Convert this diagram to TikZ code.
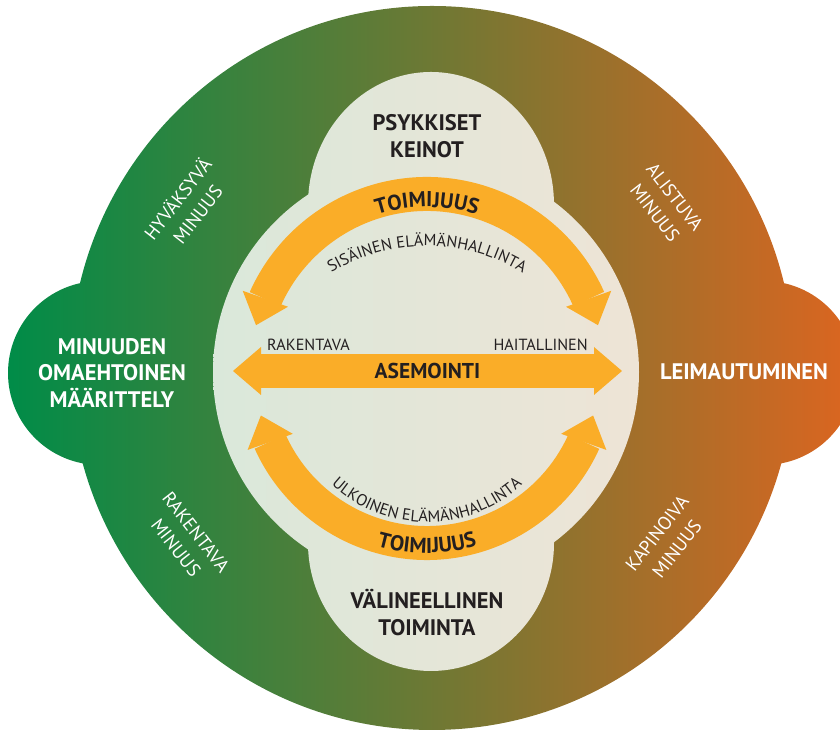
\documentclass[tikz,border=0pt]{standalone}
\usepackage{fontspec}
\setmainfont{PT Sans}
\usepackage{xcolor}
\usepackage{tikz}
\usetikzlibrary{arrows.meta,bending,decorations.text,positioning}

\definecolor{leafgreen}{RGB}{0,140,72}
\definecolor{ringmid}{RGB}{124,130,58}
\definecolor{rustorange}{RGB}{220,101,32}
\definecolor{paleleft}{RGB}{218,232,218}
\definecolor{paleright}{RGB}{238,228,214}
\definecolor{bandorange}{RGB}{250,173,40}
\definecolor{inkdark}{RGB}{35,31,32}

\newcommand\zonefont{\fontsize{19.2}{23}\selectfont\bfseries}
\newcommand\toimifont{\fontsize{18.3}{20}\selectfont\bfseries}
\newcommand\polefont{\fontsize{13.8}{15}\selectfont}
\newcommand\selffont{\fontsize{16}{21.5}\selectfont}

\begin{document}
\begin{tikzpicture}[
  x=0.3mm, y=0.3mm,
  >={Triangle[length=8.4mm, width=14.4mm, line width=0pt]},
  every node/.style={inner sep=0pt},
  band/.style={draw=bandorange, line width=10.2mm, <->},
  zone/.style={font=\zonefont, align=center, text=inkdark},
  sidezone/.style={zone, text=white},
  selfnote/.style={font=\selffont, align=center, text=white},
  pole/.style={font=\polefont, text=inkdark},
  arcnote/.style={decorate, decoration={text along path, text align=center,
                  text color=inkdark, text={#1}}}
]
  \clip (0,0) rectangle (840,732);

  % ring with the two side lobes, then the pale field inside it
  \shade[left color=leafgreen, middle color=ringmid, right color=rustorange]
    (432,364) circle (362) (100,359) circle (92) (764,359) circle (92);
  \shade[left color=paleleft, right color=paleright]
    (426,360) circle (213)
    (431,527) ellipse [x radius=123, y radius=133]
    (431,189) ellipse [x radius=123, y radius=128];

  \coordinate (hub)    at (427,361);
  \coordinate (innerc) at (427,303);
  \coordinate (outerc) at (427,351);
  \coordinate (aseL)   at (233,361);
  \coordinate (aseR)   at (622,361);

  \draw[band] ([shift={(165:177)}]hub) arc[start angle=165, end angle=15, radius=177];
  \draw[band] ([shift={(195:172)}]hub) arc[start angle=195, end angle=345, radius=172];
  \draw[band] (aseL) -- (aseR) node[midway, font=\toimifont, text=inkdark] (asem) {ASEMOINTI};

  \path[arcnote={|\toimifont|TOIMIJUUS}]
    ([shift={(130:164)}]hub) arc[start angle=130, end angle=50, radius=164];
  \path[arcnote={|\toimifont|TOIMIJUUS}]
    ([shift={(235:182)}]hub) arc[start angle=235, end angle=305, radius=182];
  \path[arcnote={|\polefont|SISÄINEN ELÄMÄNHALLINTA}]
    ([shift={(135:183)}]innerc) arc[start angle=135, end angle=45, radius=183];
  \path[arcnote={|\polefont|ULKOINEN ELÄMÄNHALLINTA}]
    ([shift={(210:141)}]outerc) arc[start angle=210, end angle=330, radius=141];

  \node[zone]     (psyk)  at (427,596) {PSYKKISET\\KEINOT};
  \node[zone]     (valin) at (427,119) {VÄLINEELLINEN\\TOIMINTA};
  \node[sidezone] (omae)  at (112,359) {MINUUDEN\\OMAEHTOINEN\\MÄÄRITTELY};
  \node[sidezone] (leima) at (744,360) {LEIMAUTUMINEN};

  \node[pole, anchor=base west] (rak)  at (267,381) {RAKENTAVA};
  \node[pole, anchor=base east] (hait) at (588,381) {HAITALLINEN};

  \node[selfnote, rotate=52]  (hyv)  at (187,526) {HYVÄKSYVÄ\\MINUUS};
  \node[selfnote, rotate=-52] (alis) at (665,527) {ALISTUVA\\MINUUS};
  \node[selfnote, rotate=-52] (rakm) at (186,192) {RAKENTAVA\\MINUUS};
  \node[selfnote, rotate=52]  (kapi) at (667,191) {KAPINOIVA\\MINUUS};
\end{tikzpicture}
\end{document}
